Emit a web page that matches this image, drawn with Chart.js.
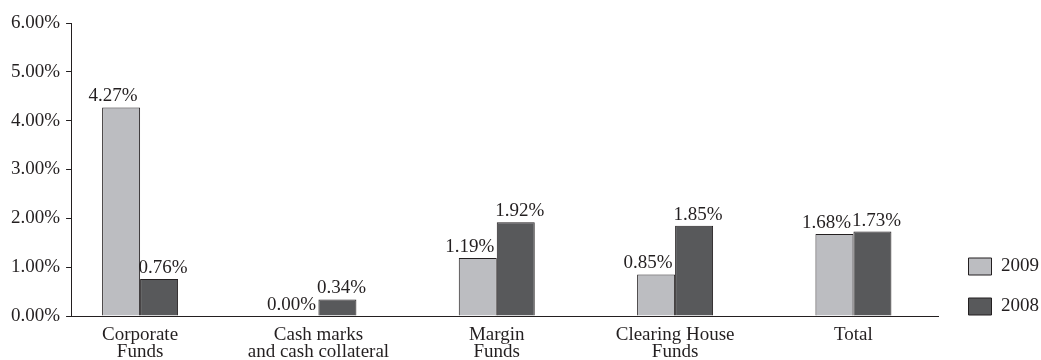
<!DOCTYPE html>
<html>
<head>
<meta charset="utf-8">
<script src="https://cdn.jsdelivr.net/npm/chart.js@4/dist/chart.umd.min.js"></script>
<style>
  html, body { margin: 0; padding: 0; background: #fff; }
  canvas { display: block; }
</style>
</head>
<body>
<canvas id="chart" width="1041" height="360"></canvas>
<script>
// categories (multi-line labels) and series
const categories = [
  ['Corporate', 'Funds'],
  ['Cash marks', 'and cash collateral'],
  ['Margin', 'Funds'],
  ['Clearing House', 'Funds'],
  ['Total']
];
const seriesNames = ['2009', '2008'];
const values2009 = [4.27, 0.00, 1.19, 0.85, 1.68];
const values2008 = [0.76, 0.34, 1.92, 1.85, 1.73];
const yTicks = [0, 1, 2, 3, 4, 5, 6];

const ink = '#231f20';
const serif = '"Liberation Serif", "Times New Roman", serif';
const labelShift = [-8, 4];

const toPoints = arr => arr.map((v, i) => ({ x: i, y: v }));

// draws the value above each bar
const barLabels = {
  id: 'barLabels',
  afterDatasetsDraw(chart) {
    const ctx = chart.ctx;
    ctx.save();
    ctx.font = '19px ' + serif;
    ctx.fillStyle = ink;
    ctx.textAlign = 'center';
    ctx.textBaseline = 'alphabetic';
    chart.data.datasets.forEach((ds, di) => {
      chart.getDatasetMeta(di).data.forEach((bar, i) => {
        ctx.fillText(ds.data[i].y.toFixed(2) + '%', bar.x + labelShift[di], bar.y - 6);
      });
    });
    ctx.restore();
  }
};

// legend sits a bit lower and further right than the default spot
const legendNudge = {
  id: 'legendNudge',
  afterLayout(chart) {
    const lg = chart.legend;
    lg.left += 9;
    lg.right += 9;
    lg.bottom = chart.chartArea.bottom + 21;
  }
};

new Chart(document.getElementById('chart'), {
  type: 'bar',
  data: {
    datasets: [
      {
        label: seriesNames[0],
        data: toPoints(values2009),
        backgroundColor: '#bcbdc1',
        borderColor: ink,
        borderWidth: 1
      },
      {
        label: seriesNames[1],
        data: toPoints(values2008),
        backgroundColor: '#58595b',
        borderColor: ink,
        borderWidth: 1
      }
    ]
  },
  options: {
    responsive: false,
    animation: false,
    categoryPercentage: 0.426,
    barPercentage: 1,
    layout: { padding: { top: 23, left: 5, right: 1, bottom: 0 } },
    scales: {
      x: {
        type: 'linear',
        offset: false,
        min: -0.387,
        max: 4.477,
        afterBuildTicks: s => { s.ticks = categories.map((c, i) => ({ value: i })); },
        afterFit: s => { s.height = 44; },
        grid: { display: false },
        border: { display: true, color: ink, width: 1 },
        ticks: {
          autoSkip: false,
          maxRotation: 0,
          padding: 3,
          color: ink,
          font: { family: serif, size: 19, lineHeight: 0.87 },
          callback: v => categories[v]
        }
      },
      y: {
        min: 0,
        max: 6,
        afterBuildTicks: s => { s.ticks = yTicks.map(v => ({ value: v })); },
        grid: { drawOnChartArea: false, drawTicks: true, tickLength: 5, color: ink },
        border: { display: true, color: ink, width: 1 },
        ticks: {
          padding: 6,
          color: ink,
          font: { family: serif, size: 19 },
          callback: v => v.toFixed(2) + '%'
        }
      }
    },
    plugins: {
      tooltip: { enabled: false },
      legend: {
        position: 'right',
        align: 'end',
        labels: {
          boxWidth: 23,
          boxHeight: 17,
          padding: 21,
          color: ink,
          font: { family: serif, size: 19 }
        }
      }
    }
  },
  plugins: [barLabels, legendNudge]
});
</script>
</body>
</html>
